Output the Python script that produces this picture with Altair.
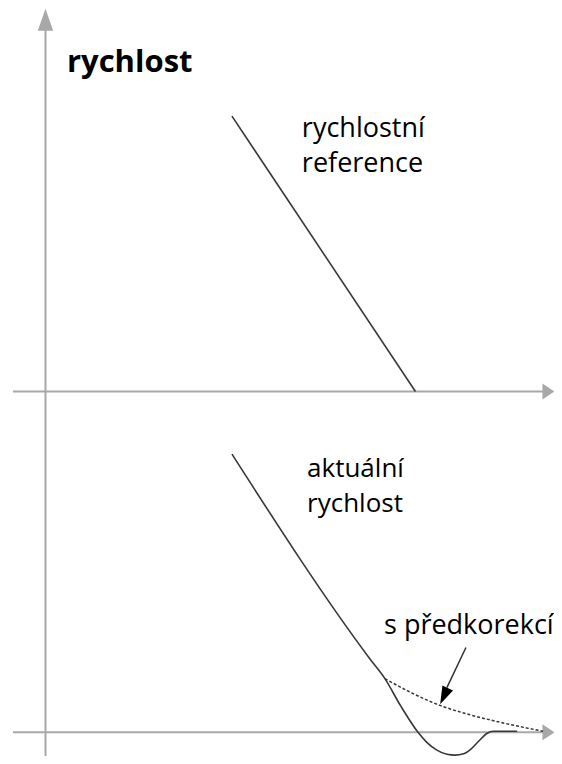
import altair as alt
import pandas as pd

# ---------------- data (time t, speed v in arbitrary units) ----------------
ref_t = [10.08, 20.0]
ref_v = [9.9, 0.0]

act_t = [10.08, 17.54, 18.35, 19.2, 20.14, 20.6, 21.16, 21.7, 22.14, 22.6, 23.0, 23.4, 23.86, 24.2, 25.5]
act_v = [10.0, 2.64, 1.93, 0.95, 0.0, -0.35, -0.64, -0.79, -0.82, -0.77, -0.6, -0.33, -0.04, 0.04, 0.04]

pre_t = [18.35, 19.7, 21.32, 22.9, 24.6, 26.0, 26.9]
pre_v = [1.93, 1.45, 0.97, 0.64, 0.36, 0.16, 0.04]

title_text = "rychlost"
ref_text = "rychlostní\nreference"
act_text = "aktuální\nrychlost"
pre_text = "s předkorekcí"

# annotation anchors (data units, relative to own graph's time axis)
title_pos = (1.16, 11.5)
ref_pos = (13.86, 9.14)
act_pos = (14.14, 9.18)
pre_pos = (18.3, 3.54)
ann_start = (22.73, 3.05)
ann_base = (21.7, 1.61)
ann_head = (21.54, 1.3)

# ---------------- layout ----------------
W, H = 546, 748
X_DOMAIN = [-2.027, 27.49]
Y_DOMAIN = [-0.85, 26.036]
TOP_OFFSET = 12.25          # vertical offset of the upper graph
AXIS_COLOR = "#a8a8a8"
LINE_COLOR = "#383838"
FONT = "Open Sans"

xs = alt.Scale(domain=X_DOMAIN, nice=False, zero=False)
ys = alt.Scale(domain=Y_DOMAIN, nice=False, zero=False)
X = alt.X("t:Q", scale=xs, axis=None)
Y = alt.Y("v:Q", scale=ys, axis=None)


def pts(t, v, off=0.0):
    return pd.DataFrame({"t": t, "v": [x + off for x in v]})


layers = []

# vertical axis (one line through both graphs) with arrow
layers.append(
    alt.Chart(pd.DataFrame({"t": [0.0], "v": [Y_DOMAIN[0]], "v2": [13.0 + TOP_OFFSET]}))
    .mark_rule(color=AXIS_COLOR, strokeWidth=2)
    .encode(x=X, y=Y, y2="v2:Q")
)
layers.append(
    alt.Chart(pd.DataFrame({"t": [0.0], "v": [13.36 + TOP_OFFSET]}))
    .mark_point(shape="M0,-1L0.7,1L-0.7,1Z", size=484, filled=True,
                color=AXIS_COLOR, opacity=1, strokeWidth=0)
    .encode(x=X, y=Y)
)

# horizontal axes with arrows
for off in (TOP_OFFSET, 0.0):
    layers.append(
        alt.Chart(pd.DataFrame({"t": [-1.76], "t2": [26.9], "v": [off]}))
        .mark_rule(color=AXIS_COLOR, strokeWidth=2)
        .encode(x=X, x2="t2:Q", y=Y)
    )
    layers.append(
        alt.Chart(pd.DataFrame({"t": [27.19], "v": [off]}))
        .mark_point(shape="M0.75,0L-0.75,-1L-0.75,1Z", size=256, filled=True,
                    color=AXIS_COLOR, opacity=1, strokeWidth=0)
        .encode(x=X, y=Y)
    )

# upper graph: speed reference
layers.append(
    alt.Chart(pts(ref_t, ref_v, TOP_OFFSET))
    .mark_line(color=LINE_COLOR, strokeWidth=1.6)
    .encode(x=X, y=Y)
)

# lower graph: pre-corrected (dashed) and actual speed
layers.append(
    alt.Chart(pts(pre_t, pre_v))
    .mark_line(color=LINE_COLOR, strokeWidth=1.5, strokeDash=[3, 2], interpolate="monotone")
    .encode(x=X, y=Y)
)
layers.append(
    alt.Chart(pts(act_t, act_v))
    .mark_line(color=LINE_COLOR, strokeWidth=1.6, interpolate="monotone")
    .encode(x=X, y=Y)
)

# annotation arrow
layers.append(
    alt.Chart(pd.DataFrame({"t": [ann_start[0]], "v": [ann_start[1]],
                            "t2": [ann_base[0]], "v2": [ann_base[1]]}))
    .mark_rule(color="#333333", strokeWidth=1.5)
    .encode(x=X, y=Y, x2="t2:Q", y2="v2:Q")
)
layers.append(
    alt.Chart(pd.DataFrame({"t": [ann_head[0]], "v": [ann_head[1]]}))
    .mark_point(shape="M0,-1L0.65,1L-0.65,1Z", size=324, filled=True, color="#000000",
                opacity=1, strokeWidth=0, angle=204.8)
    .encode(x=X, y=Y)
)


def text_layer(txt, pos, off=0.0, bold=False, size=27, line_height=35):
    df = pd.DataFrame({"t": [pos[0]], "v": [pos[1] + off], "label": [txt]})
    return alt.Chart(df).mark_text(
        align="left", baseline="alphabetic", font=FONT,
        fontSize=size, fontWeight="bold" if bold else "normal",
        lineBreak="\n", lineHeight=line_height, color="#000000",
    ).encode(x=X, y=Y, text="label:N")


layers.append(text_layer(title_text, title_pos, TOP_OFFSET, bold=True, size=31))
layers.append(text_layer(ref_text, ref_pos, TOP_OFFSET, line_height=35))
layers.append(text_layer(act_text, act_pos, 0.0, size=26, line_height=35))
layers.append(text_layer(pre_text, pre_pos, 0.0))

chart = (
    alt.layer(*layers)
    .properties(width=W, height=H, padding=0, autosize=alt.AutoSizeParams(type="none"))
    .configure_view(stroke=None)
)

chart.save("out.html", embed_options={"renderer": "svg", "actions": False})
